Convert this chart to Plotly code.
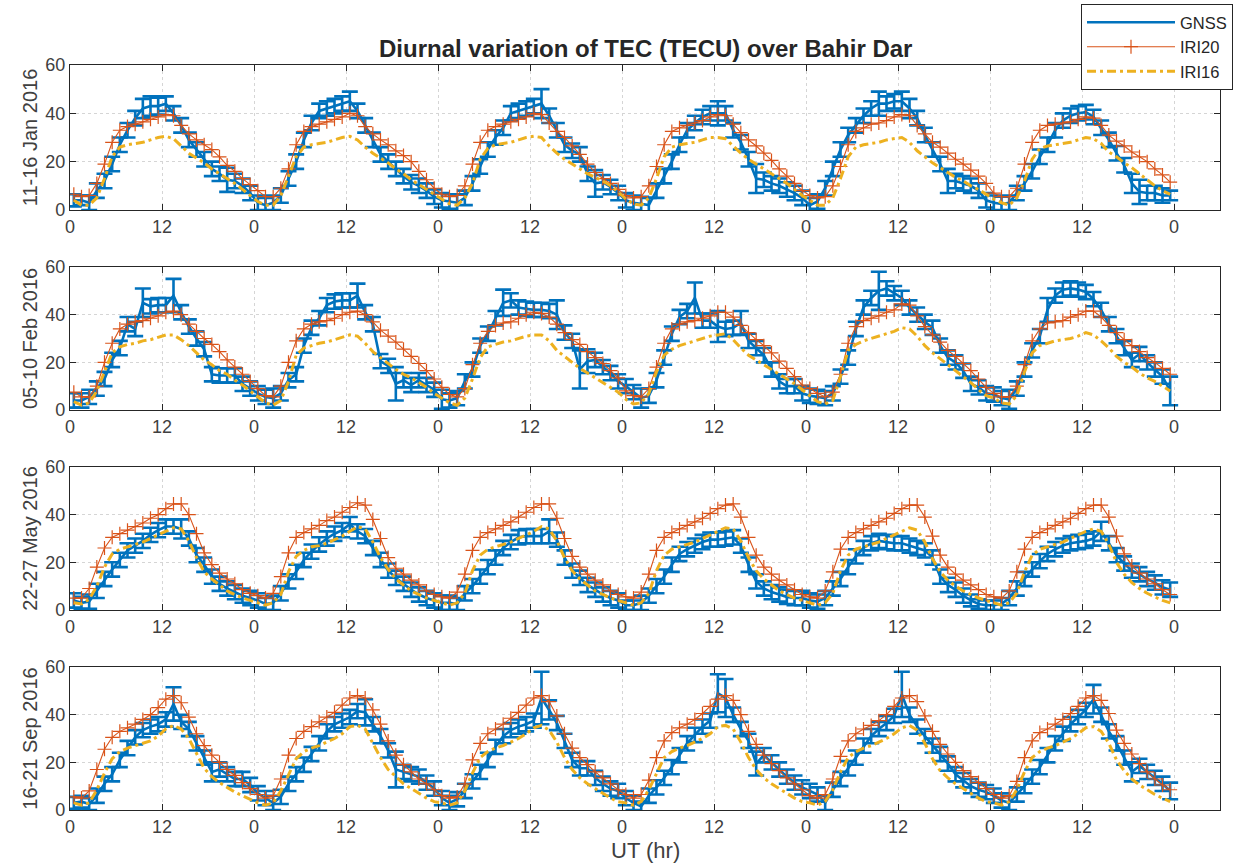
import numpy as np
import plotly.graph_objects as go
from plotly.subplots import make_subplots

# Hourly TEC (TECU), six consecutive days per campaign, one line per day.
jan_gnss = [
    4, 4, 3, 8, 12, 19, 27, 33, 38, 42, 43, 43, 44, 40, 35, 29, 25, 21, 17, 15, 12.5, 12, 10, 7,
    3, 2, 3, 6, 13, 20, 29, 36, 41, 42, 43, 44, 45, 41, 35, 29, 23, 20, 17, 14, 11.5, 10, 8, 5.5,
    4, 3.5, 3, 5, 11, 18, 25, 30, 34, 40, 41, 42, 43, 44, 39, 33, 27, 24.5, 23, 15, 11, 11.5, 9.5, 7,
    4, 3, 2.5, 2, 8, 14, 20, 27, 33, 36, 38.5, 40, 40, 40, 33, 28, 21, 13, 12.5, 11, 10, 8.5, 7, 5,
    2, 3.5, 9, 17, 25, 31, 35, 39, 42, 44, 44, 45, 45, 42, 38, 31, 25, 19, 12, 12, 11, 10, 8, 4,
    3, 2.5, 3, 7, 11, 16, 22, 27, 33, 37, 39, 40, 40.5, 38.5, 34, 29, 23.5, 18.5, 11, 7.5, 7, 7, 6, 6,
]
jan_err = [
    2.5, 2, 3, 3, 3, 3, 3, 3, 3, 4, 4, 3.5, 3, 3, 3, 3, 3, 3, 3, 3, 5, 3, 3, 3,
    3, 3, 3, 3, 3, 3, 3, 3, 3, 3, 3, 3, 4, 3, 3, 3, 3, 3, 3, 3, 3, 3, 3, 3,
    3, 3, 3.5, 3, 3, 3, 3, 3, 3, 3, 3, 3, 3, 6, 3, 3, 3, 3, 3, 3, 5.5, 3, 3, 3,
    3, 3, 3, 3, 3, 3, 3, 3, 3, 3, 3, 3, 5, 3, 3, 3, 3, 6, 3, 3, 3, 3, 3, 3,
    3, 3, 3, 3, 3, 3, 3, 3, 3, 5, 3, 3, 4, 4, 3, 3, 3, 3, 5, 3, 3, 3, 3, 3,
    3, 3, 3, 3, 3, 3, 3, 3, 3, 3, 3, 3, 3, 3, 3, 3, 3, 3, 4, 5, 3, 3, 3, 2,
]
jan_iri20 = [
    6.5, 5.5, 6, 11, 19, 28, 33, 34.5, 35.5, 36.5, 37.5, 38.5, 39.5, 39, 35, 31.5, 29, 27, 25, 22, 18.5, 16, 13, 10.5,
    8, 5.5, 5.5, 9, 17, 27, 32.5, 34.5, 35.5, 36.5, 37.5, 38.5, 40, 39, 34.5, 31.5, 29, 27, 24.5, 22.5, 20, 16, 12.5, 9,
    6.5, 5.5, 6, 10, 19, 28, 33, 34.5, 35.5, 36.5, 37.5, 38.5, 40, 39.5, 36, 32.5, 30, 26.5, 23, 19, 15.5, 13, 11, 8.5,
    6, 5, 5.5, 10, 18, 27, 32.5, 34, 35, 36, 37, 38.5, 39.5, 39, 35.5, 32, 29, 26.5, 23.5, 20.5, 17, 14, 11, 8,
    6, 5, 5.5, 10, 18, 27, 32.5, 34, 35.5, 36, 37, 38.5, 39.5, 39, 35, 31.5, 28, 26, 23.5, 21, 19, 16.5, 14, 11,
    7, 5.5, 5.5, 9, 19, 28, 33, 35, 35.5, 36, 36.5, 37.5, 38.5, 38, 35, 31, 28.5, 26.5, 24, 22, 20, 17, 14.5, 11.5,
]
jan_iri16 = [
    4, 2, 2, 5, 13, 22, 26, 27, 27.5, 28, 29, 30, 30.5, 29.5, 26.5, 23.5, 21.5, 19.5, 17, 15, 13, 11, 8.5, 6,
    3.5, 2, 2, 6, 14, 22, 26, 27, 27.5, 28, 29, 30, 30.5, 29, 26, 23.5, 21.5, 19.5, 17, 15, 12.5, 10.5, 8.5, 6.5,
    4.5, 2.5, 2, 5, 11, 21, 25.5, 27, 27.5, 28, 29, 30, 30.5, 30, 26.5, 23.5, 21, 19, 17, 15, 13.5, 12, 10, 7.5,
    4.5, 2.5, 2, 5, 13, 22, 26, 27, 27.5, 28, 29, 30, 30, 29.5, 26.5, 23.5, 21, 19, 17, 15, 13, 11, 8.5, 6,
    4, 2, 2, 5, 13, 22, 26, 27, 27.5, 28, 29, 29.5, 30, 28, 24.5, 22, 19.5, 17.5, 15.5, 13.5, 12, 10, 8.5, 6.5,
    4.5, 3, 2, 5, 12, 21, 25.5, 26.5, 27, 27.5, 28, 29, 30, 29.5, 27.5, 24, 22, 19.5, 17.5, 15, 12.5, 10, 8, 6.5,
]

feb_gnss = [
    4, 4, 5.5, 9, 13, 21, 26, 36, 34, 45, 43.5, 44, 44, 48, 41, 35, 30, 25.5, 15, 14.5, 14.5, 14.5, 11, 9,
    7, 5.5, 5, 7, 12.5, 15, 27, 34.5, 38.5, 44, 45.5, 46, 46, 48, 41, 36, 20.5, 18.5, 11, 12.5, 10.5, 12.5, 10.5, 8.5,
    4.5, 4, 5, 12, 17, 27, 32, 38.5, 45, 46, 43, 42.5, 42, 42, 41.5, 40, 32.5, 29, 17, 20.5, 21, 18, 15.5, 12,
    10, 7.5, 5, 6, 12.5, 22, 32, 39, 41.5, 47, 37.5, 37.5, 35, 34, 34.5, 36.5, 29, 26, 23, 17, 12, 10, 10, 7,
    6, 5.5, 5, 7, 14, 22, 34, 43, 47, 50, 51, 49, 47, 43, 40, 37, 34.5, 27, 22, 20, 16.5, 11, 9.5, 7,
    6.5, 5, 4.5, 9, 17, 25, 31, 42, 48, 50.5, 51, 50.5, 49.5, 46.5, 42, 36, 31, 26, 21, 23.5, 20, 17, 14, 8,
]
feb_err = [
    3, 3, 3, 3, 3, 3, 3, 3, 3, 6, 3, 3, 3, 7, 3, 3, 3, 3, 3, 3, 3, 3, 3, 3,
    3, 3, 4, 3, 3, 3, 3, 3, 3, 3, 3, 3, 3, 5, 3, 3, 3, 3, 7, 3, 3, 3, 3, 3,
    4, 3, 3, 3, 3, 3, 3, 3, 5.5, 3, 3, 3, 3, 3, 3, 6, 3, 3, 8, 5, 3, 3, 3, 3,
    3, 3, 4, 3, 3, 3, 3, 3, 3, 6.5, 3, 3, 6.5, 3, 3, 5, 3, 3, 3, 3, 3, 3, 3, 3,
    3, 3, 3, 3, 3, 3, 3, 3, 3, 8, 3, 3, 3, 3, 3, 3, 3, 3, 3, 3, 3, 3, 3, 3,
    3, 3, 4, 3, 3, 3, 3, 5, 3, 3, 3, 3, 3, 3, 3, 3, 3, 3, 3, 3, 3, 3, 3, 6,
]
feb_iri20 = [
    7.5, 5.5, 5.5, 10, 20, 28, 34, 36, 37, 37.5, 38.5, 39.5, 41, 41.5, 40, 36, 33, 30, 27.5, 24.5, 21, 18, 15, 12,
    9, 6, 5.5, 10, 20, 29, 34, 36, 37, 37.5, 38.5, 40, 41, 41.5, 40, 37, 33.5, 31, 28.5, 25.5, 22.5, 19.5, 16.5, 13,
    9.5, 6.5, 5.5, 9, 19, 28, 33, 35.5, 36.5, 37, 38.5, 40, 41, 40.5, 39, 36, 32.5, 29.5, 27.5, 24.5, 22, 19.5, 16.5, 13.5,
    8, 6, 5.5, 9, 18, 28, 34, 36, 37, 37.5, 38.5, 39.5, 41, 41, 39, 35.5, 32.5, 29.5, 27, 24, 20.5, 17.5, 14, 10.5,
    9, 7, 5.5, 7.5, 15, 28, 35, 37.5, 38.5, 39.5, 41, 42, 44.5, 44, 39.5, 35, 31.5, 28.5, 25, 22.5, 19.5, 16.5, 13, 9.5,
    7, 5.5, 5.5, 10, 19, 29, 34, 36.5, 37, 37.5, 39, 40, 41.5, 41.5, 39, 35.5, 32.5, 29.5, 27, 24.5, 22, 20, 17.5, 15,
]
feb_iri16 = [
    3.5, 2, 3, 8, 16, 24, 26.5, 27.5, 28, 29, 29.5, 30.5, 31.5, 31.5, 29.5, 27, 24, 21, 19, 16.5, 15, 12.5, 10.5, 8,
    5.5, 3, 2, 4, 12, 23, 26, 27, 28, 28.5, 29.5, 30.5, 31.5, 31, 28, 24.5, 22, 19.5, 17, 15, 13.5, 11.5, 9.5, 7,
    5, 3, 2, 5, 13, 22, 26.5, 27.5, 28.5, 29, 30, 31, 31.5, 31.5, 29, 25, 22.5, 20, 17.5, 15.5, 13.5, 11.5, 9.5, 7.5,
    4.5, 2.5, 3, 7, 16, 23, 25.5, 27, 28, 29, 30, 31, 31.5, 32, 29.5, 26, 23, 21, 19, 17, 15, 13, 11, 8.5,
    6, 3.5, 2.5, 4, 14, 25, 27.5, 29, 30, 31, 32, 33, 34.5, 34, 31, 27, 24, 21.5, 19, 16.5, 14, 11.5, 8.5, 6,
    5, 3, 2.5, 6, 16, 24, 27, 28, 29, 29.5, 30, 31, 32.5, 31.5, 29, 26, 22.5, 20, 18, 15.5, 13.5, 12, 10, 8,
]

may_gnss = [
    4, 3, 3.5, 8, 13, 17, 21, 25, 27, 29, 31.5, 33.5, 35, 35, 34, 30, 23, 19, 14, 11, 9, 7.5, 6, 5,
    4, 2.5, 3, 7, 12, 16, 21, 24.5, 27.5, 30, 32, 33.5, 36, 33, 31, 26, 21, 16.5, 13.5, 11, 8.5, 6.5, 5, 4,
    3, 3, 2.5, 7, 10, 14, 18, 22, 26, 28.5, 30.5, 31, 31, 31, 33, 29.5, 22, 16.5, 13.5, 10.5, 8.5, 6.5, 5, 4,
    2, 2, 3, 6, 10, 14, 19, 23.5, 25.5, 27, 28.5, 29.5, 29.5, 30, 30.5, 27, 19, 12, 9, 7.5, 6.5, 5.5, 5, 5,
    4, 3.5, 5, 9, 13, 18, 22.5, 26, 28, 29, 28.5, 28, 28, 27, 26, 25, 22, 14, 10.5, 8.5, 6, 4, 2.5, 2,
    2, 2.5, 5, 9, 13, 17, 20.5, 23.5, 25.5, 27, 28, 28.5, 29, 30, 33, 28, 23, 19.5, 16.5, 15, 13, 11.5, 9.5, 8.5,
]
may_err = [
    3, 2.5, 3, 3, 3, 3, 3, 3, 3, 3, 3, 3, 3, 3, 4, 3, 3, 3, 3, 3, 3, 3, 3, 3,
    3, 2.5, 3, 3, 3, 3, 3, 3, 3, 3, 3, 3, 3, 3, 3, 3, 3, 3, 3, 3, 3, 3, 3, 3,
    3, 3, 2.5, 3, 3, 3, 3, 3, 3, 3, 3, 3, 3, 3, 5, 3, 3, 3, 3, 3, 3, 3, 3, 3,
    2, 2, 3, 3, 3, 3, 3, 3, 3, 3, 3, 3, 3, 3, 3, 3, 3, 3, 3, 3, 3, 3, 3, 3,
    3, 3, 3, 3, 3, 3, 3, 3, 3, 3, 3, 3, 3, 3, 3, 3, 3, 3, 3, 3, 3, 2.5, 2, 2,
    2, 2.5, 3, 3, 3, 3, 3, 3, 3, 3, 3, 3, 3, 3, 4, 3, 3, 3, 3, 3, 3, 3, 3, 3,
]
may_iri20 = [
    5, 5, 9, 18, 26, 30.5, 32, 33.5, 35, 36.5, 38.5, 40, 42.5, 44.5, 44.5, 40, 32, 24, 19, 15.5, 13, 11, 8.5, 7,
    6, 5, 7, 14, 24, 30.5, 32.5, 34, 35.5, 37.5, 39, 41, 43, 45, 44, 38, 30, 22, 17.5, 15, 12.5, 10.5, 8, 6.5,
    5.5, 5, 7.5, 15, 25, 30.5, 32.5, 34, 35.5, 37, 39, 41, 43, 44.5, 44.5, 38.5, 30, 22.5, 18, 15, 12.5, 10.5, 8, 6.5,
    5.5, 5, 7.5, 15, 25, 30.5, 32.5, 34, 35.5, 37, 38.5, 40.5, 42.5, 44, 44.5, 39, 30.5, 23, 18, 15, 12.5, 10.5, 8.5, 6.5,
    5.5, 5, 8, 16, 25.5, 30.5, 32.5, 34, 35.5, 37, 38.5, 40.5, 42.5, 44, 44, 39, 31, 23, 18, 15, 12.5, 10.5, 8.5, 6.5,
    5.5, 5, 8, 16, 25.5, 30.5, 32.5, 34, 35.5, 37, 38.5, 40.5, 42.5, 44, 44, 39, 31, 23.5, 18.5, 15.5, 13, 11, 8.5, 6.5,
]
may_iri16 = [
    3, 2.5, 4.5, 10, 18, 23.5, 25.5, 26.5, 27.5, 28.5, 30, 31.5, 33, 34.5, 34, 29, 22, 16, 13, 10.5, 8, 6.5, 5, 4,
    3, 2, 3, 6.5, 16, 22.5, 25, 26.5, 27, 28, 29.5, 31, 33, 35, 34, 28.5, 22, 17, 13, 10.5, 8, 6.5, 5, 4,
    3, 2, 3, 7, 16.5, 23, 25.5, 26.5, 27.5, 28.5, 30, 31.5, 33, 35, 34, 29, 22, 16.5, 13, 10.5, 8, 6.5, 5, 4,
    3, 2, 3, 7, 16.5, 23, 25.5, 26.5, 27.5, 28.5, 30, 31.5, 33, 34.5, 34, 29, 22, 16.5, 13, 10.5, 8, 6.5, 5, 4,
    3, 2, 3, 7, 16.5, 23, 25.5, 26.5, 27.5, 28.5, 30, 31.5, 33, 34.5, 33.5, 28.5, 21.5, 16, 12.5, 10, 8, 6.5, 5, 4,
    3, 2, 3, 7, 16, 23, 25.5, 26.5, 27.5, 28.5, 30, 31.5, 33, 34, 33, 27.5, 20, 15, 11.5, 9, 7, 5.5, 4, 3,
]

sep_gnss = [
    3, 3.5, 2.5, 6, 11, 15, 21, 26, 30.5, 33.5, 35, 36, 38, 44.5, 37, 34, 28, 22, 16, 17, 15, 13, 13, 10.5,
    7, 5, 3, 5.5, 11, 15, 19, 23.5, 28, 33, 36, 37.5, 39, 41.5, 41, 36, 31, 25, 17, 16, 15, 14, 11.5, 9,
    5, 3, 4.5, 8, 12, 16, 21, 26.5, 31, 33.5, 35, 36, 37.5, 47, 42, 36.5, 29, 21, 17.5, 17.5, 13.5, 11, 9, 8,
    5, 3, 1.5, 6, 9.5, 13.5, 18, 23, 28, 31.5, 35, 37.5, 49, 47, 40, 34, 29, 19.5, 23, 20, 17, 14, 11.5, 9.5,
    8, 6.5, 3, 8.5, 13, 17.5, 22, 27, 31, 34, 36.5, 39.5, 48.5, 40, 35, 31, 27, 23.5, 19.5, 15, 12.5, 10, 8.5, 7.5,
    6, 4, 3, 6.5, 10, 14, 18, 23, 28, 32, 36, 39, 42, 46.5, 40, 33, 28, 22, 16, 18.5, 16, 13.5, 11, 8,
]
sep_err = [
    2.5, 2.5, 2.5, 3, 3, 3, 3, 3, 3, 3, 3, 3, 3, 7, 3, 3, 3, 3, 4, 3, 3, 3, 3, 3,
    3, 3, 3, 3, 3, 3, 3, 3, 3, 3, 3, 3, 3, 3, 5.5, 3, 3, 3, 7.5, 3, 3, 3, 3, 3,
    3, 3, 3, 3, 3, 3, 3, 3, 3, 3, 3, 3, 3, 11, 4, 3, 3, 3, 3, 3, 3, 3, 3, 3,
    3, 3, 2, 3, 3, 3, 3, 3, 3, 3, 3, 3, 8, 8, 3, 3, 3, 5, 3, 3, 3, 3, 3, 3,
    3, 3, 3, 3, 3, 3, 3, 3, 3, 3, 3, 3, 9.5, 3, 3, 3, 3, 3, 3, 3, 3, 3, 3, 3,
    3, 3, 3, 3, 3, 3, 3, 3, 3, 3, 3, 3, 3, 6, 3, 3, 3, 3, 4, 3, 3, 3, 3, 3.5,
]
sep_iri20 = [
    5.5, 5, 8, 17, 25.5, 30.5, 33, 34.5, 36, 38, 40, 43, 46.5, 48, 45, 39, 32, 27, 23, 20, 17, 14.5, 11.5, 9,
    6.5, 5, 6, 13, 23, 30, 33, 35, 37, 39, 41, 44, 47, 48, 47, 42, 36, 29, 23, 19, 16, 13, 11, 8.5,
    6, 5, 5.5, 11, 21, 28, 32, 34, 36, 38.5, 41, 44, 47, 48, 45.5, 39.5, 32, 26, 22, 19, 16, 13.5, 11, 8.5,
    6.5, 5, 6.5, 12.5, 22, 29, 32.5, 34.5, 36, 38, 40.5, 43.5, 46.5, 48, 46, 40, 33, 27.5, 23, 19.5, 16.5, 13.5, 11, 8.5,
    6, 5, 6.5, 13, 22.5, 29, 32, 34, 35.5, 37.5, 40, 43.5, 47, 48, 45.5, 39.5, 33, 27.5, 23.5, 20, 16.5, 14, 11.5, 9,
    6.5, 5, 6, 12, 22, 29, 32.5, 34, 36, 38, 40.5, 43.5, 47, 48, 46, 40.5, 33.5, 28, 23.5, 19.5, 16, 13, 10.5, 8.5,
]
sep_iri16 = [
    3, 2, 3, 8.5, 15.5, 21.5, 24.5, 26, 27, 28, 29, 31, 34, 35.5, 34, 30, 24, 17.5, 14, 11.5, 9.5, 7.5, 6, 4.5,
    3, 2, 3, 8, 15, 21.5, 24.5, 26, 27, 28.5, 30, 32, 35, 35.5, 34, 28, 22, 17, 14, 11, 9, 7, 5, 3.5,
    3, 2, 3, 8, 15.5, 22, 24.5, 26, 27, 28.5, 30, 32, 34.5, 35.5, 33.5, 28.5, 22, 17, 13.5, 11, 9, 7, 5, 3.5,
    3, 2, 3.5, 8.5, 15.5, 22, 24.5, 26, 27, 28.5, 30, 32, 35, 35.5, 34, 28.5, 22, 17, 13.5, 11, 9, 7, 5, 3.5,
    3, 2, 3.5, 8.5, 16, 22, 24.5, 26, 27, 28.5, 30, 32, 34.5, 35.5, 33.5, 28, 21.5, 16.5, 13.5, 11, 9, 7, 5, 3.5,
    3, 2, 3.5, 8.5, 16, 22, 24.5, 26, 27, 28.5, 30, 32, 34.5, 35, 33, 28, 21, 16.5, 13, 10.5, 8.5, 6.5, 5, 3.5,
]

panel_labels = ["11-16 Jan 2016", "05-10 Feb 2016", "22-27 May 2016", "16-21 Sep 2016"]
x_tick_vals = list(range(0, 145, 12))
x_tick_text = ["0" if v % 24 == 0 else "12" for v in x_tick_vals]
y_tick_vals = [0, 20, 40, 60]

panels = [
    (jan_gnss, jan_err, jan_iri20, jan_iri16),
    (feb_gnss, feb_err, feb_iri20, feb_iri16),
    (may_gnss, may_err, may_iri20, may_iri16),
    (sep_gnss, sep_err, sep_iri20, sep_iri16),
]

BLUE = "#0072BD"
ORANGE = "#D95319"
YELLOW = "#EDB120"
INK = "#262626"
LABEL = "#404040"
FONT = "Liberation Sans, Arial, Helvetica, sans-serif"

fig = make_subplots(rows=4, cols=1)

for i, (gnss, err, iri20, iri16) in enumerate(panels):
    row = i + 1
    first = i == 0
    t = np.arange(len(gnss)) + 0.5
    fig.add_trace(go.Scatter(
        x=t, y=gnss, mode="lines", name="GNSS", legendgroup="gnss",
        showlegend=first,
        line=dict(color=BLUE, width=2.6),
        error_y=dict(type="data", array=err, visible=True,
                     color=BLUE, thickness=2.6, width=8),
    ), row=row, col=1)
    t20 = np.arange(len(iri20)) + 0.5
    fig.add_trace(go.Scatter(
        x=t20, y=iri20, mode="lines+markers", name="IRI20", legendgroup="iri20",
        showlegend=first,
        line=dict(color=ORANGE, width=1.1),
        marker=dict(symbol="cross-thin", size=10,
                    line=dict(color=ORANGE, width=1.2), color=ORANGE),
    ), row=row, col=1)
    t16 = np.arange(len(iri16)) + 0.5
    fig.add_trace(go.Scatter(
        x=t16, y=iri16, mode="lines", name="IRI16", legendgroup="iri16",
        showlegend=first,
        line=dict(color=YELLOW, width=3, dash="9px,4px,3px,4px"),
    ), row=row, col=1)

# panel placement (plot area 65..810 px tall)
domains = [[0.8054, 1.0], [0.5369, 0.7289], [0.2685, 0.4604], [0.0, 0.1919]]

axis_common = dict(
    showline=True, linecolor=INK, linewidth=1.3, mirror="ticks",
    ticks="inside", ticklen=6, tickwidth=1.3, tickcolor=INK,
    showgrid=True, gridcolor="#d5d5d5", griddash="dot", gridwidth=1,
    zeroline=False, tickfont=dict(family=FONT, size=18, color=LABEL),
)

for i in range(4):
    xa = "xaxis" if i == 0 else f"xaxis{i + 1}"
    ya = "yaxis" if i == 0 else f"yaxis{i + 1}"
    fig.layout[xa].update(
        range=[0, 150], tickmode="array", tickvals=x_tick_vals, ticktext=x_tick_text,
        domain=[0, 1], automargin=False, **axis_common,
    )
    fig.layout[ya].update(
        range=[0, 60], tickmode="array", tickvals=y_tick_vals, domain=domains[i],
        automargin=False,
        title=dict(text=panel_labels[i], standoff=2,
                   font=dict(family=FONT, size=20, color=LABEL)),
        **axis_common,
    )

fig.add_annotation(
    text="<b>Diurnal variation of TEC (TECU) over Bahir Dar</b>",
    x=0.5, y=1.022, xref="paper", yref="paper", xanchor="center", yanchor="middle",
    showarrow=False, font=dict(family=FONT, size=24, color=INK),
)
fig.add_annotation(
    text="UT (hr)", x=0.5, y=-0.054, xref="paper", yref="paper",
    xanchor="center", yanchor="middle", showarrow=False,
    font=dict(family=FONT, size=22, color=LABEL),
)

fig.update_layout(
    width=1242, height=864,
    margin=dict(l=70, r=22, t=65, b=54, autoexpand=False),
    paper_bgcolor="white", plot_bgcolor="white",
    font=dict(family=FONT, color=INK),
    legend=dict(
        xref="container", yref="container",
        x=1081 / 1242, y=1 - 4 / 864, xanchor="left", yanchor="top",
        bgcolor="white", bordercolor=INK, borderwidth=1,
        font=dict(family=FONT, size=16.5, color=INK),
        tracegroupgap=0, itemwidth=88,
    ),
)

fig.write_html("out.html")
